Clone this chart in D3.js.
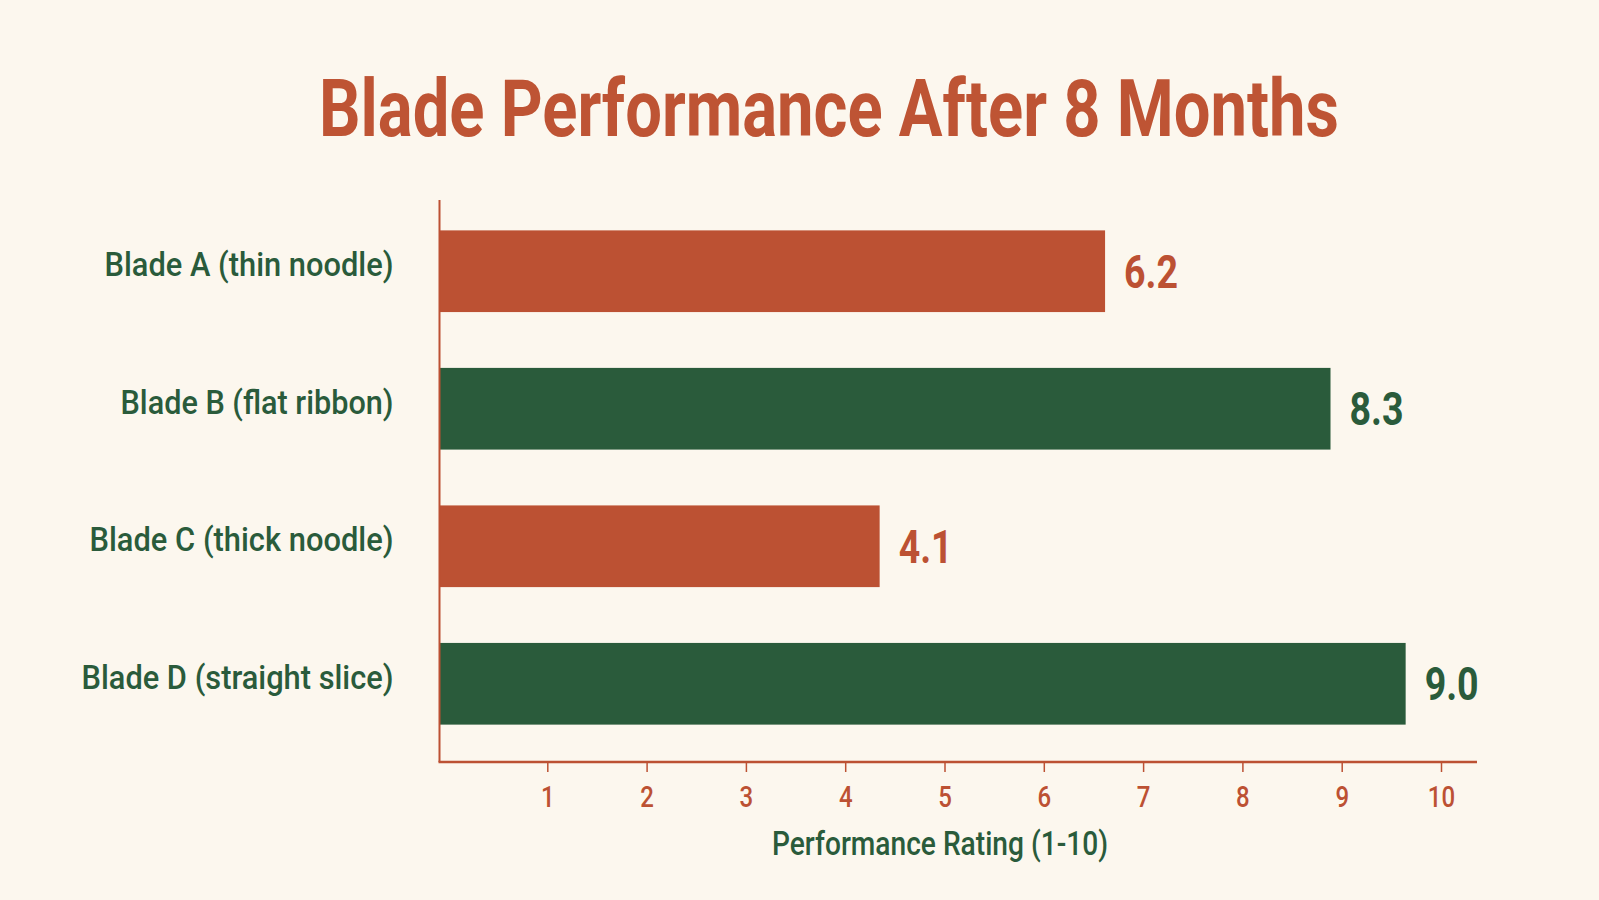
<!DOCTYPE html>
<html>
<head>
<meta charset="utf-8">
<script src="https://cdn.jsdelivr.net/npm/d3@7"></script>
<style>
  html, body { margin: 0; padding: 0; background: #FCF7EE; }
  svg { display: block; }
</style>
</head>
<body>
<svg id="chart" width="1599" height="900"></svg>
<script>
// ---- data ----
const categories = ["Blade A (thin noodle)", "Blade B (flat ribbon)", "Blade C (thick noodle)", "Blade D (straight slice)"];
const values = [6.2, 8.3, 4.1, 9.0];
const valueLabels = ["6.2", "8.3", "4.1", "9.0"];
const barColors = ["#BC5133", "#2A5B3B", "#BC5133", "#2A5B3B"];
const tickValues = [1, 2, 3, 4, 5, 6, 7, 8, 9, 10];
const titleText = "Blade Performance After 8 Months";
const axisTitle = "Performance Rating (1-10)";
const labelWidths = [289, 273, 304, 312];

// ---- styles ----
const ORANGE = "#BC5133";
const GREEN = "#2A5B3B";
const FONT = "Roboto, 'Liberation Sans Narrow', 'DejaVu Sans Condensed', sans-serif";

const svg = d3.select("#chart");
svg.append("rect").attr("width", 1599).attr("height", 900).attr("fill", "#FCF7EE");

// scales
const xBar = d3.scaleLinear().domain([0, 10]).range([439.5, 1513]);
const xAxisScale = d3.scaleLinear().domain([0, 10]).range([448, 1441]);
const y = d3.scaleBand().domain(categories).range([196, 759]).paddingInner(0.406).paddingOuter(0.25);

// title
svg.append("text")
  .attr("x", 829).attr("y", 135.5)
  .attr("text-anchor", "middle")
  .attr("font-family", FONT)
  .attr("font-weight", 700)
  .attr("font-size", 79)
  .attr("fill", "#BE5434")
  .attr("textLength", 1020)
  .attr("lengthAdjust", "spacingAndGlyphs")
  .text(titleText);

// bars
svg.append("g").selectAll("rect")
  .data(categories)
  .join("rect")
  .attr("x", xBar(0))
  .attr("y", d => y(d))
  .attr("width", (d, i) => xBar(values[i]) - xBar(0))
  .attr("height", y.bandwidth())
  .attr("fill", (d, i) => barColors[i]);

// value labels
svg.append("g").selectAll("text")
  .data(categories)
  .join("text")
  .attr("x", (d, i) => xBar(values[i]) + 19)
  .attr("y", d => y(d) + y.bandwidth() / 2 + 16.5)
  .attr("font-family", FONT)
  .attr("font-weight", 700)
  .attr("font-size", 46)
  .attr("fill", (d, i) => barColors[i])
  .attr("textLength", 54)
  .attr("lengthAdjust", "spacingAndGlyphs")
  .text((d, i) => valueLabels[i]);

// category labels
svg.append("g").selectAll("text")
  .data(categories)
  .join("text")
  .attr("x", 393.5)
  .attr("y", d => y(d) + y.bandwidth() / 2 + 5)
  .attr("text-anchor", "end")
  .attr("font-family", FONT)
  .attr("font-weight", 500)
  .attr("font-size", 34)
  .attr("fill", GREEN)
  .attr("textLength", (d, i) => labelWidths[i])
  .attr("lengthAdjust", "spacingAndGlyphs")
  .text(d => d);

// axes lines
svg.append("line")
  .attr("x1", 439.5).attr("x2", 439.5)
  .attr("y1", 200).attr("y2", 762)
  .attr("stroke", ORANGE).attr("stroke-width", 2);
svg.append("line")
  .attr("x1", 438.5).attr("x2", 1477)
  .attr("y1", 762).attr("y2", 762)
  .attr("stroke", ORANGE).attr("stroke-width", 2.5);

// bottom axis ticks
const xAxisG = svg.append("g")
  .attr("transform", "translate(0,762)")
  .call(d3.axisBottom(xAxisScale).tickValues(tickValues).tickSize(10).tickPadding(14).tickFormat(d3.format("d")));
xAxisG.select(".domain").remove();
xAxisG.selectAll(".tick line").attr("stroke", ORANGE).attr("stroke-width", 1.5);
xAxisG.selectAll(".tick text")
  .attr("font-family", FONT)
  .attr("font-weight", 500)
  .attr("font-size", 30)
  .attr("fill", ORANGE)
  .attr("dy", "0.71em")
  .each(function () {
    const w = this.getComputedTextLength();
    this.setAttribute("textLength", w * 0.8);
    this.setAttribute("lengthAdjust", "spacingAndGlyphs");
  });

// axis title
svg.append("text")
  .attr("x", 940).attr("y", 855)
  .attr("text-anchor", "middle")
  .attr("font-family", FONT)
  .attr("font-weight", 500)
  .attr("font-size", 33)
  .attr("fill", GREEN)
  .attr("textLength", 336)
  .attr("lengthAdjust", "spacingAndGlyphs")
  .text(axisTitle);
</script>
</body>
</html>
